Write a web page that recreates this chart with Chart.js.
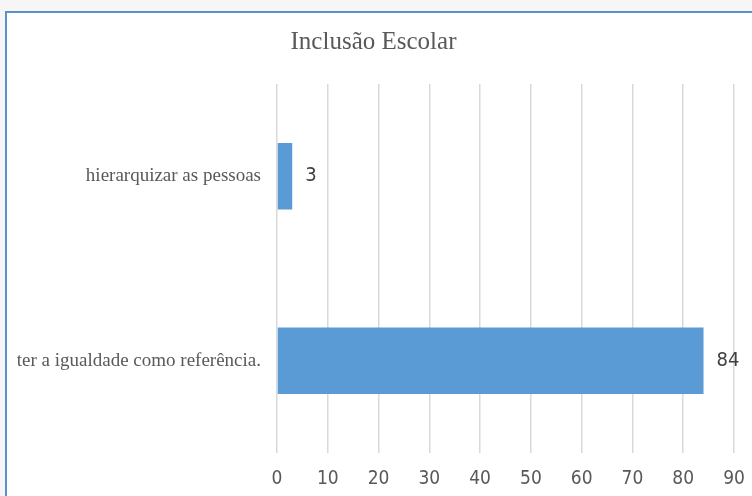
<!DOCTYPE html>
<html>
<head>
<meta charset="utf-8">
<script src="https://cdn.jsdelivr.net/npm/chart.js@4/dist/chart.umd.min.js"></script>
<style>
  html, body { margin: 0; padding: 0; }
  body { width: 752px; height: 496px; background: #f6f6f6; position: relative; overflow: hidden; }
  #frame {
    position: absolute; left: 5px; top: 11px; right: -10px; bottom: -10px;
    background: #fff; border-left: 2px solid #5b8fc9; border-top: 2px solid #5b8fc9;
  }
  #chart { position: absolute; left: 7px; top: 13px; }
</style>
</head>
<body>
<div id="frame"></div>
<canvas id="chart" width="745" height="483"></canvas>
<script>
const chartTitle = "Inclusão Escolar";
const categories = ["hierarquizar as pessoas", "ter a igualdade como referência."];
const values = [3, 84];
const xTicks = [0, 10, 20, 30, 40, 50, 60, 70, 80, 90];

const textGray = "#595959";
const narrowFont = "'Liberation Sans Narrow', 'DejaVu Sans Condensed', sans-serif";
const serifFont = "'Liberation Serif', 'Times New Roman', serif";

// draws the value next to the end of each bar
const valueLabels = {
  id: "valueLabels",
  afterDatasetsDraw(chart) {
    const ctx = chart.ctx;
    const meta = chart.getDatasetMeta(0);
    ctx.save();
    ctx.font = "20px " + narrowFont;
    ctx.fillStyle = "#404040";
    ctx.textAlign = "left";
    ctx.textBaseline = "middle";
    meta.data.forEach((bar, i) => {
      ctx.fillText(String(values[i]), bar.x + 13, bar.y);
    });
    ctx.restore();
  },
};

new Chart(document.getElementById("chart").getContext("2d"), {
  type: "bar",
  data: {
    labels: categories,
    datasets: [
      {
        data: values,
        backgroundColor: "#5b9bd5",
        borderWidth: 0,
        barPercentage: 0.36,
        categoryPercentage: 1,
      },
    ],
  },
  options: {
    indexAxis: "y",
    responsive: false,
    animation: false,
    layout: { padding: { left: 6, right: 18, top: 0, bottom: 0 } },
    plugins: {
      legend: { display: false },
      tooltip: { enabled: false },
      title: {
        display: true,
        text: chartTitle,
        color: textGray,
        font: { family: serifFont, size: 25, weight: "normal" },
        padding: { top: 14, bottom: 27 },
      },
    },
    scales: {
      x: {
        min: xTicks[0],
        max: xTicks[xTicks.length - 1],
        afterBuildTicks: (scale) => {
          scale.ticks = xTicks.map((v) => ({ value: v }));
        },
        afterFit: (scale) => {
          scale.height = 43;
          scale.paddingLeft = 0;
          scale.paddingRight = 0;
        },
        grid: { color: "#d9d9d9", lineWidth: 1.5, drawTicks: false },
        border: { display: false },
        ticks: {
          padding: 15,
          color: textGray,
          font: { family: narrowFont, size: 19 },
        },
      },
      y: {
        afterFit: (scale) => { scale.width = 264; },
        grid: { display: false, drawTicks: false },
        border: { display: false },
        ticks: {
          padding: 16,
          color: textGray,
          font: { family: serifFont, size: 19 },
        },
      },
    },
  },
  plugins: [valueLabels],
});
</script>
</body>
</html>
